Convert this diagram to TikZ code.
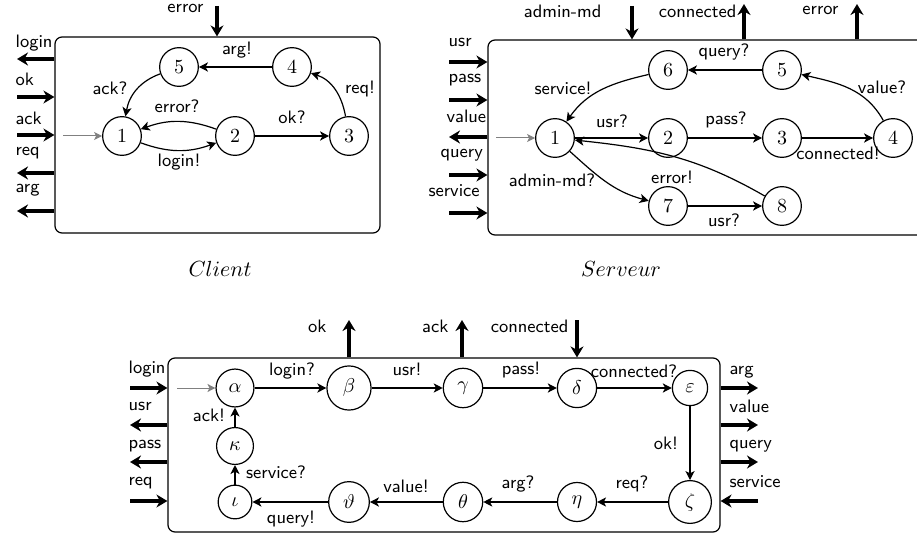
\documentclass[tikz,border=0pt]{standalone}
\usetikzlibrary{arrows.meta,fit}
\begin{document}
\begin{tikzpicture}[x=0.5pt,y=-0.5pt,
  st/.style={circle,draw,line width=0.6pt,inner sep=4pt,font=\fontsize{10}{12}\selectfont},
  edge/.style={-{Stealth[length=4.5pt,width=4.6pt,inset=1.2pt]},line width=0.6pt},
  init/.style={-{Stealth[length=4pt,width=4pt,inset=1pt]},gray,line width=0.5pt},
  port/.style={-{Stealth[length=5.5pt,width=6.5pt,inset=1.8pt]},line width=1.6pt},
  lab/.style={font=\sffamily\fontsize{9}{10}\selectfont,inner sep=0pt},
  box/.style={draw,rounded corners=3.5pt,line width=0.6pt,inner sep=0pt},
  ttl/.style={font=\fontsize{11}{13}\selectfont,inner sep=0pt}]
\useasboundingbox (0,0) rectangle (917,535);
\clip (0,0) rectangle (917,535);

%================ CLIENT =================
\coordinate (cNW) at (55,37); \coordinate (cSE) at (380,233);
\node[box,fit=(cNW)(cSE)] (cbox) {};
\node[st] (c1) at (122,136) {$1$};
\node[st] (c2) at (235,136) {$2$};
\node[st] (c3) at (349,136) {$3$};
\node[st] (c4) at (292,67) {$4$};
\node[st] (c5) at (179,67) {$5$};
\coordinate (ci) at (63,136);
\draw[init] (ci) -- (c1);
\draw[edge] (c1) to[bend right=20] (c2) node[lab,anchor=base] at (179,167) {login!};
\draw[edge] (c2) to[bend right=20] (c1) node[lab,anchor=base] at (177,113) {error?};
\draw[edge] (c2) -- (c3) node[lab,anchor=base] at (292,124) {ok?};
\draw[edge] (c3) to[out=100,in=-18] (c4) node[lab,anchor=base] at (360,94) {req!};
\draw[edge] (c4) -- (c5) node[lab,anchor=base] at (237,55) {arg!};
\draw[edge] (c5) to[out=200,in=80] (c1) node[lab,anchor=base] at (110,95) {ack?};
% ports
\coordinate (cpl1) at (17,59);  \coordinate (cpl2) at (17,97);
\coordinate (cpl3) at (17,135); \coordinate (cpl4) at (17,173);
\coordinate (cpl5) at (17,211); \coordinate (cpt1) at (217,6);
\draw[port] (cbox.west |- cpl1) -- (cpl1) node[lab,anchor=base west] at (14,48) {login};
\draw[port] (cpl2) -- (cbox.west |- cpl2) node[lab,anchor=base west] at (14,86) {ok};
\draw[port] (cpl3) -- (cbox.west |- cpl3) node[lab,anchor=base west] at (14,125) {ack};
\draw[port] (cbox.west |- cpl4) -- (cpl4) node[lab,anchor=base west] at (14,156) {req};
\draw[port] (cbox.west |- cpl5) -- (cpl5) node[lab,anchor=base west] at (14,193) {arg};
\draw[port] (cpt1) -- (cbox.north -| cpt1) node[lab,anchor=base east] at (205,13) {error};
\node[ttl,anchor=base] (ctitle) at (220,277) {$Client$};

%================ SERVEUR =================
\coordinate (sNW) at (488,40); \coordinate (sSE) at (935,235);
\node[box,fit=(sNW)(sSE)] (sbox) {};
\node[st] (s1) at (555,138) {$1$};
\node[st] (s2) at (668,138) {$2$};
\node[st] (s3) at (782,138) {$3$};
\node[st] (s4) at (893,138) {$4$};
\node[st] (s5) at (782,70) {$5$};
\node[st] (s6) at (668,70) {$6$};
\node[st] (s7) at (668,206) {$7$};
\node[st] (s8) at (782,206) {$8$};
\coordinate (si) at (496,138);
\draw[init] (si) -- (s1);
\draw[edge] (s1) -- (s2) node[lab,anchor=base] at (612,128) {usr?};
\draw[edge] (s2) -- (s3) node[lab,anchor=base] at (726,125) {pass?};
\draw[edge] (s3) -- (s4) node[lab,anchor=base] at (838,160) {connected!};
\draw[edge] (s4) to[out=119,in=-13] (s5) node[lab,anchor=base] at (882,94) {value?};
\draw[edge] (s5) -- (s6) node[lab,anchor=base] at (724,57) {query?};
\draw[edge] (s6) to[out=193,in=55] (s1) node[lab,anchor=base] at (563,95) {service!};
\draw[edge] (s1) to[out=-42,in=165] (s7) node[lab,anchor=base] at (552,187) {admin-md?};
\draw[edge] (s7) -- (s8) node[lab,anchor=base] at (724,227) {usr?};
\draw[edge] (s8) to[out=150,in=-6] (s1) node[lab,anchor=base] at (672,184) {error!};
% ports
\coordinate (spl1) at (449,62);  \coordinate (spl2) at (449,100);
\coordinate (spl3) at (449,137); \coordinate (spl4) at (449,175);
\coordinate (spl5) at (449,213);
\coordinate (spt1) at (632,6); \coordinate (spt2) at (744,4); \coordinate (spt3) at (857,4);
\draw[port] (spl1) -- (sbox.west |- spl1) node[lab,anchor=base west] at (447,47) {usr};
\draw[port] (spl2) -- (sbox.west |- spl2) node[lab,anchor=base west] at (447,83) {pass};
\draw[port] (sbox.west |- spl3) -- (spl3) node[lab,anchor=base west] at (445,123) {value};
\draw[port] (spl4) -- (sbox.west |- spl4) node[lab,anchor=base west] at (439,158) {query};
\draw[port] (spl5) -- (sbox.west |- spl5) node[lab,anchor=base west] at (427,197) {service};
\draw[port] (spt1) -- (sbox.north -| spt1) node[lab,anchor=base east] at (603,18) {admin-md};
\draw[port] (sbox.north -| spt2) -- (spt2) node[lab,anchor=base east] at (738,18) {connected};
\draw[port] (sbox.north -| spt3) -- (spt3) node[lab,anchor=base east] at (840,15) {error};
\node[ttl,anchor=base] (stitle) at (621,277) {$Serveur$};

%================ MEDIATEUR =================
\coordinate (mNW) at (168,358); \coordinate (mSE) at (720,532);
\node[box,fit=(mNW)(mSE)] (mbox) {};
\node[st] (ma) at (235,388) {$\alpha$};
\node[st] (mb) at (349,388) {$\beta$};
\node[st] (mg) at (463,388) {$\gamma$};
\node[st] (md) at (577,388) {$\delta$};
\node[st] (me) at (690,388) {$\varepsilon$};
\node[st] (mz) at (690,502) {$\zeta$};
\node[st] (mh) at (577,502) {$\eta$};
\node[st] (mt) at (463,502) {$\theta$};
\node[st] (mv) at (349,502) {$\vartheta$};
\node[st] (mi) at (235,502) {$\iota$};
\node[st] (mk) at (235,446) {$\kappa$};
\coordinate (mii) at (177,388);
\draw[init] (mii) -- (ma);
\draw[edge] (ma) -- (mb) node[lab,anchor=base] at (292,375) {login?};
\draw[edge] (mb) -- (mg) node[lab,anchor=base] at (407,375) {usr!};
\draw[edge] (mg) -- (md) node[lab,anchor=base] at (521,374) {pass!};
\draw[edge] (md) -- (me) node[lab,anchor=base] at (634,377) {connected?};
\draw[edge] (me) -- (mz) node[lab,anchor=base] at (666,449) {ok!};
\draw[edge] (mz) -- (mh) node[lab,anchor=base] at (632,488) {req?};
\draw[edge] (mh) -- (mt) node[lab,anchor=base] at (518,488) {arg?};
\draw[edge] (mt) -- (mv) node[lab,anchor=base] at (406,492) {value!};
\draw[edge] (mv) -- (mi) node[lab,anchor=base] at (291,523) {query!};
\draw[edge] (mi) -- (mk) node[lab,anchor=base] at (276,478) {service?};
\draw[edge] (mk) -- (ma) node[lab,anchor=base] at (209,422) {ack!};
% ports
\coordinate (mpl1) at (130,388); \coordinate (mpl2) at (130,425);
\coordinate (mpl3) at (130,462); \coordinate (mpl4) at (130,501);
\coordinate (mpr1) at (758,388); \coordinate (mpr2) at (758,425);
\coordinate (mpr3) at (758,462); \coordinate (mpr4) at (758,501);
\coordinate (mpt1) at (349,320); \coordinate (mpt2) at (462,320); \coordinate (mpt3) at (577,320);
\draw[port] (mpl1) -- (mbox.west |- mpl1) node[lab,anchor=base west] at (127,373) {login};
\draw[port] (mbox.west |- mpl2) -- (mpl2) node[lab,anchor=base west] at (127,410) {usr};
\draw[port] (mbox.west |- mpl3) -- (mpl3) node[lab,anchor=base west] at (127,448) {pass};
\draw[port] (mpl4) -- (mbox.west |- mpl4) node[lab,anchor=base west] at (127,485) {req};
\draw[port] (mbox.east |- mpr1) -- (mpr1) node[lab,anchor=base west] at (728,374) {arg};
\draw[port] (mbox.east |- mpr2) -- (mpr2) node[lab,anchor=base west] at (728,412) {value};
\draw[port] (mbox.east |- mpr3) -- (mpr3) node[lab,anchor=base west] at (728,448) {query};
\draw[port] (mpr4) -- (mbox.east |- mpr4) node[lab,anchor=base west] at (728,487) {service};
\draw[port] (mbox.north -| mpt1) -- (mpt1) node[lab,anchor=base east] at (328,333) {ok};
\draw[port] (mbox.north -| mpt2) -- (mpt2) node[lab,anchor=base east] at (450,333) {ack};
\draw[port] (mpt3) -- (mbox.north -| mpt3) node[lab,anchor=base east] at (570,333) {connected};
\end{tikzpicture}
\end{document}
